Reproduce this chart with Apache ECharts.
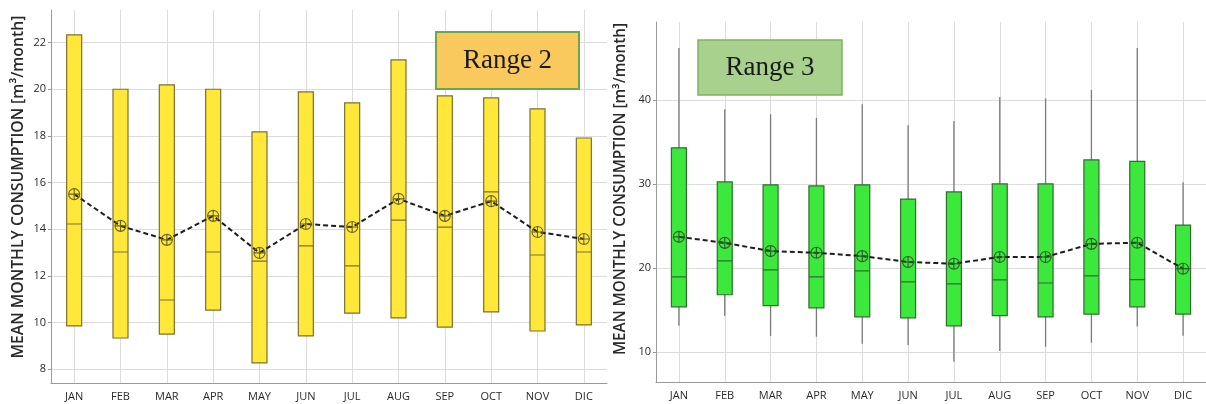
<!DOCTYPE html>
<html>
<head>
<meta charset="utf-8">
<script src="https://cdn.jsdelivr.net/npm/echarts@6/dist/echarts.min.js"></script>
<style>html,body{margin:0;padding:0;background:#fff;}#c{width:1206px;height:404px;}</style>
</head>
<body>
<div id="c"></div>
<script>
var months = ['JAN','FEB','MAR','APR','MAY','JUN','JUL','AUG','SEP','OCT','NOV','DIC'];

// Range 2 (yellow boxes, no whiskers)
var r2Low    = [9.85, 9.33, 9.5, 10.53, 8.26, 9.42, 10.4, 10.19, 9.8, 10.45, 9.63, 9.89];
var r2Median = [14.22, 13.02, 10.96, 13.02, 12.63, 13.28, 12.42, 14.39, 14.09, 15.6, 12.89, 13.02];
var r2High   = [22.33, 20.0, 20.19, 20.0, 18.17, 19.89, 19.42, 21.26, 19.72, 19.63, 19.16, 17.91];
var r2Mean   = [15.5, 14.14, 13.54, 14.57, 12.98, 14.22, 14.09, 15.3, 14.57, 15.2, 13.88, 13.58];

// Range 3 (green boxes with whiskers)
var r3WhiskerLow  = [13.1, 14.3, 11.9, 11.8, 10.95, 10.8, 8.8, 10.1, 10.6, 11.07, 13.0, 11.9];
var r3Q1          = [15.36, 16.8, 15.5, 15.24, 14.17, 14.05, 13.1, 14.3, 14.17, 14.5, 15.36, 14.5];
var r3Median      = [18.93, 20.83, 19.76, 18.93, 19.64, 18.33, 18.1, 18.57, 18.2, 19.05, 18.6, 19.9];
var r3Q3          = [34.3, 30.24, 29.9, 29.76, 29.9, 28.2, 29.05, 30.0, 30.0, 32.86, 32.7, 25.1];
var r3WhiskerHigh = [46.2, 38.9, 38.3, 37.86, 39.5, 37.0, 37.5, 40.36, 40.2, 41.2, 46.2, 30.2];
var r3Mean        = [23.7, 22.98, 22.0, 21.8, 21.4, 20.7, 20.5, 21.3, 21.3, 22.86, 23.0, 19.9];

var yTitle = 'MEAN MONTHLY CONSUMPTION [m\u00B3/month]';
var font = 'Open Sans';
var gridColor = '#dcdcdc';
var meanSymbol = 'path://M0,-5A5,5 0 1,1 0,5A5,5 0 1,1 0,-5Z M-5,0L5,0 M0,-5L0,5';

var r2Box = months.map(function(m, i){ return [r2Low[i], r2Low[i], r2Median[i], r2High[i], r2High[i]]; });
var r3Box = months.map(function(m, i){ return [r3Q1[i], r3Q1[i], r3Median[i], r3Q3[i], r3Q3[i]]; });
var r3Whisk = months.map(function(m, i){ return [i, r3WhiskerLow[i], r3WhiskerHigh[i]]; });

function vLines(){
  return {
    silent: true, symbol: ['none','none'], animation: false,
    label: {show: false},
    lineStyle: {color: gridColor, type: 'solid', width: 1},
    emphasis: {disabled: true},
    data: months.map(function(m){ return {xAxis: m}; })
  };
}

function xAx(gi){
  return {
    type: 'category', gridIndex: gi, data: months,
    axisLine: {lineStyle: {color: '#9a9a9a', width: 1}},
    axisTick: {show: false},
    axisLabel: {color: '#2a2a2a', fontFamily: font, fontSize: 11, margin: 8},
    splitLine: {show: false}
  };
}
function yAx(gi, mn, mx, sn){
  return {
    type: 'value', gridIndex: gi, min: mn, max: mx, splitNumber: sn,
    axisLine: {show: true, lineStyle: {color: '#9a9a9a'}},
    axisTick: {show: true, length: 3, lineStyle: {color: '#9a9a9a'}},
    axisLabel: {color: '#2a2a2a', fontFamily: font, fontSize: 11, margin: 5, showMinLabel: false, showMaxLabel: false},
    splitLine: {show: true, showMinLine: false, showMaxLine: false, lineStyle: {color: gridColor}}
  };
}

var chart = echarts.init(document.getElementById('c'), null, {renderer: 'canvas'});
chart.setOption({
  animation: false,
  backgroundColor: '#fff',
  grid: [
    {left: 51, width: 556, top: 10, bottom: 21},
    {left: 656, width: 553, top: 22, bottom: 22}
  ],
  xAxis: [xAx(0), xAx(1)],
  yAxis: [yAx(0, 7.4, 23.4, 8), yAx(1, 6.4, 49.3, 4)],
  series: [
    {
      type: 'boxplot', xAxisIndex: 0, yAxisIndex: 0, z: 10,
      boxWidth: [15, 15], data: r2Box,
      itemStyle: {color: '#ffe83a', borderColor: '#7d7030', borderWidth: 1.2},
      markLine: vLines()
    },
    {
      type: 'line', xAxisIndex: 0, yAxisIndex: 0, z: 12, data: r2Mean,
      lineStyle: {color: '#1e1e1e', width: 2, type: [5, 3]},
      symbol: meanSymbol, symbolSize: 11,
      itemStyle: {color: 'rgba(0,0,0,0)', borderColor: '#6b6322', borderWidth: 1.1}
    },
    {
      type: 'custom', xAxisIndex: 1, yAxisIndex: 1, z: 8, data: r3Whisk,
      renderItem: function(params, api){
        var lo = api.coord([api.value(0), api.value(1)]);
        var hi = api.coord([api.value(0), api.value(2)]);
        return {type: 'line', shape: {x1: lo[0], y1: lo[1], x2: hi[0], y2: hi[1]},
                style: {stroke: '#7a7a7a', lineWidth: 1.3}};
      },
      markLine: vLines()
    },
    {
      type: 'boxplot', xAxisIndex: 1, yAxisIndex: 1, z: 10,
      boxWidth: [15, 15], data: r3Box,
      itemStyle: {color: '#3ce83c', borderColor: '#2f6e2f', borderWidth: 1.2}
    },
    {
      type: 'line', xAxisIndex: 1, yAxisIndex: 1, z: 12, data: r3Mean,
      lineStyle: {color: '#1e1e1e', width: 2, type: [5, 3]},
      symbol: meanSymbol, symbolSize: 11,
      itemStyle: {color: 'rgba(0,0,0,0)', borderColor: '#2b5e2b', borderWidth: 1.1}
    }
  ],
  graphic: [
    {type: 'text', x: 18, y: 187, rotation: Math.PI/2, z: 20,
     style: {text: yTitle, fontFamily: font, fontSize: 15.8, fontWeight: 600, fill: '#2a2a2a', align: 'center', verticalAlign: 'middle'}},
    {type: 'text', x: 621, y: 189, rotation: Math.PI/2, z: 20,
     style: {text: yTitle, fontFamily: font, fontSize: 15.3, fontWeight: 600, fill: '#2a2a2a', align: 'center', verticalAlign: 'middle'}},
    {type: 'rect', shape: {x: 436, y: 32, width: 143, height: 57}, z: 20,
     style: {fill: '#f9c95e', stroke: '#6aa84a', lineWidth: 2}},
    {type: 'text', x: 507.5, y: 61, z: 21,
     style: {text: 'Range 2', fontFamily: 'Liberation Serif', fontSize: 27, fill: '#1a1a1a', align: 'center', verticalAlign: 'middle'}},
    {type: 'rect', shape: {x: 698, y: 40, width: 144, height: 55}, z: 20,
     style: {fill: '#a9d18e', stroke: '#7db35c', lineWidth: 1.5}},
    {type: 'text', x: 770, y: 68, z: 21,
     style: {text: 'Range 3', fontFamily: 'Liberation Serif', fontSize: 27, fill: '#1a1a1a', align: 'center', verticalAlign: 'middle'}}
  ]
});
</script>
</body>
</html>
